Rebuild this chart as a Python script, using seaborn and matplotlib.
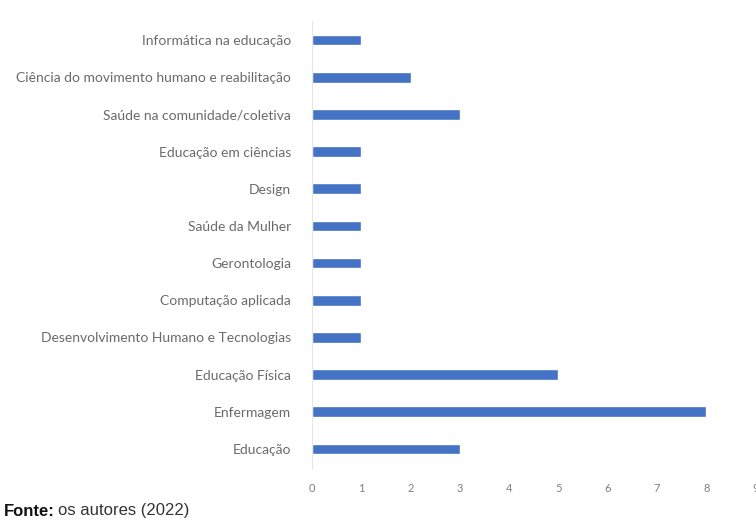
import matplotlib
matplotlib.use("Agg")
import matplotlib.pyplot as plt
import seaborn as sns
import pandas as pd

categories = [
    "Informática na educação",
    "Ciência do movimento humano e reabilitação",
    "Saúde na comunidade/coletiva",
    "Educação em ciências",
    "Design",
    "Saúde da Mulher",
    "Gerontologia",
    "Computação aplicada",
    "Desenvolvimento Humano e Tecnologias",
    "Educação Física",
    "Enfermagem",
    "Educação",
]
values = [1, 2, 3, 1, 1, 1, 1, 1, 1, 5, 8, 3]
x_ticks = [0, 1, 2, 3, 4, 5, 6, 7, 8, 9]

df = pd.DataFrame({"curso": categories, "n": values})

sns.set_theme(style="white")
plt.rcParams["font.family"] = ["Lato", "DejaVu Sans"]

fig = plt.figure(figsize=(7.56, 5.21), dpi=100)
ax = fig.add_axes([312 / 756, 1 - 467.6 / 521, 443.6 / 756, 446.2 / 521])

sns.barplot(data=df, y="curso", x="n", orient="h", color="#4472C4",
            width=0.29, saturation=1, ax=ax)

ax.set_xlim(0, 9)
ax.set_ylim(11.5, -0.5)
ax.set_xticks(x_ticks)
ax.set_xticklabels([str(t) for t in x_ticks], fontsize=8, color="#808080")
ax.tick_params(axis="x", length=0, pad=11)
ax.tick_params(axis="y", length=0, pad=15, labelsize=10, labelcolor="#6a6a6a")
ax.set_xlabel("")
ax.set_ylabel("")
for s in ["top", "right", "bottom"]:
    ax.spines[s].set_visible(False)
ax.spines["left"].set_color("#e6e6e6")
ax.spines["left"].set_linewidth(0.8)

t1 = fig.text(4 / 756, 1 - 511 / 521, "Fonte:", fontsize=12, fontweight="bold",
              family=["Liberation Sans", "DejaVu Sans"], va="center", ha="left", color="#111111")
fig.canvas.draw()
bb = t1.get_window_extent()
fig.text((bb.x1 + 3) / 756, 1 - 511 / 521, "os autores (2022)", fontsize=12,
         family=["Liberation Sans", "DejaVu Sans"], va="center", ha="left", color="#333333")

fig.savefig("out.png", dpi=100)
